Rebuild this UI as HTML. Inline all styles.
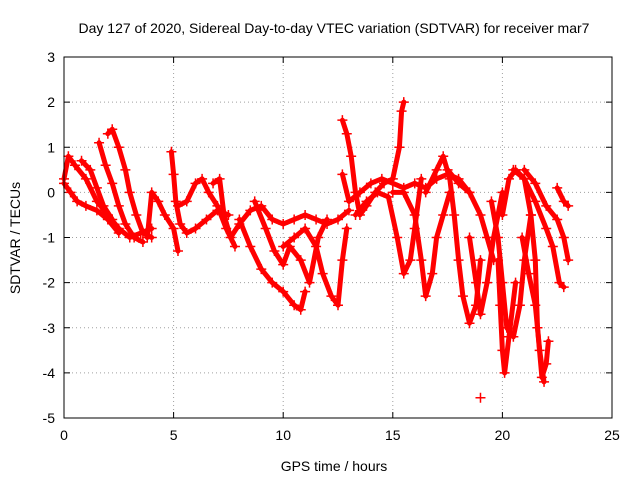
<!DOCTYPE html>
<html><head><meta charset="utf-8"><style>
body{margin:0;background:#fff;}
svg text{font-family:"Liberation Sans",sans-serif;font-size:14px;fill:#000;}
</style></head><body>
<svg id="chart" width="640" height="480">
<text x="334" y="33" text-anchor="middle">Day 127 of 2020, Sidereal Day-to-day VTEC variation (SDTVAR) for receiver mar7</text>
<text x="334" y="471" text-anchor="middle">GPS time / hours</text>
<text x="20" y="238" text-anchor="middle" transform="rotate(-90 20 238)">SDTVAR / TECUs</text>
<g id="grid"></g><g id="ticks"></g><g id="series"></g>
<rect x="64" y="57" width="548" height="361" fill="none" stroke="#000" stroke-width="1"/>
</svg>
<script>
const xTicks=[0,5,10,15,20,25];
const yTicks=[-5,-4,-3,-2,-1,0,1,2,3];
const tracks=[
[[0,0.3],[0.2,0.8],[0.5,0.6],[1,0.3],[1.5,-0.2],[2,-0.5],[2.5,-0.8],[3,-1.0],[3.5,-0.9],[4,-0.8]],
[[0,0.2],[0.3,0.0],[0.6,-0.2],[1,-0.3],[1.5,-0.4],[2,-0.6],[2.5,-0.9]],
[[0.8,0.7],[1.2,0.5],[1.5,0.1],[1.8,-0.3],[2.2,-0.6]],
[[1.6,1.1],[1.9,0.6],[2.2,0.2],[2.5,-0.3],[2.8,-0.7],[3.2,-1.0],[3.6,-1.1]],
[[2.0,1.3],[2.2,1.4],[2.5,1.0],[2.8,0.5],[3.0,0.0],[3.3,-0.5],[3.6,-0.9],[4.0,-1.0]],
[[3.8,-1.0],[4.0,0.0],[4.3,-0.2],[4.6,-0.5],[5.0,-0.8],[5.2,-1.3]],
[[4.9,0.9],[5.0,0.4],[5.1,-0.2],[5.3,-0.7],[5.6,-0.9],[6,-0.8],[6.5,-0.6],[7,-0.4],[7.5,-0.5]],
[[5.2,-0.3],[5.6,-0.2],[6.0,0.2],[6.3,0.3],[6.6,0.0],[7,-0.3],[7.4,-0.8],[7.8,-1.2]],
[[6.8,0.2],[7.1,0.3],[7.3,-0.5],[7.6,-1.0],[8,-0.7],[8.5,-0.4],[9,-0.3],[9.5,-0.6],[10,-0.7],[10.5,-0.6],[11,-0.5],[11.5,-0.6],[12,-0.7],[12.5,-0.6],[13,-0.4]],
[[8,-0.6],[8.5,-1.2],[9,-1.7],[9.5,-2.0],[10,-2.2],[10.5,-2.5],[10.8,-2.6],[11,-2.2]],
[[8.7,-0.2],[9.2,-0.8],[9.6,-1.3],[10,-1.6],[10.3,-1.2],[10.8,-1.5],[11.2,-2.0],[11.6,-1.0],[12,-0.6]],
[[10,-1.2],[10.5,-1.0],[11,-0.8],[11.5,-1.2],[11.8,-1.8],[12.2,-2.3],[12.5,-2.5],[12.7,-1.5],[12.9,-0.8]],
[[12.7,1.6],[12.9,1.3],[13.1,0.8],[13.3,0.0],[13.5,-0.5],[13.8,-0.3],[14.2,0.0],[14.6,0.2],[15,0.3],[15.3,1.0],[15.4,1.8],[15.5,2.0]],
[[12.7,0.4],[13,-0.2],[13.5,0.0],[14,0.2],[14.5,0.3],[15,0.2],[15.5,0.1],[16,0.2],[16.5,0.1],[17,0.3],[17.5,0.4],[18,0.3],[18.5,0.0]],
[[13.3,-0.5],[13.8,-0.2],[14.3,0.0],[14.8,-0.1],[15.2,-1.0],[15.5,-1.8],[15.8,-1.5],[16.0,-0.8],[16.3,0.3]],
[[15,0],[15.5,0.0],[16,-0.5],[16.3,-1.5],[16.5,-2.3],[16.8,-1.8],[17,-1.0],[17.3,-0.5],[17.6,0.0]],
[[16.5,0.0],[17,0.5],[17.3,0.8],[17.6,0.3],[17.8,-0.5],[18,-1.5],[18.2,-2.3],[18.5,-2.9],[18.8,-2.5],[19,-1.5]],
[[17.5,0.5],[18,0.2],[18.5,0.0],[19,-0.5],[19.3,-1.0],[19.6,-1.5]],
[[18.5,-1.0],[18.8,-2.0],[19,-2.7],[19.3,-2.0],[19.6,-1.0],[20,0.0]],
[[19,-4.55]],
[[19.5,-0.2],[19.8,-1.0],[20,-2.0],[20.2,-3.0],[20.5,-3.2],[20.8,-2.5],[21,-1.5],[21.3,-0.5]],
[[19.8,-1.5],[19.9,-2.5],[20,-3.5],[20.1,-4.0],[20.3,-3.2],[20.6,-2.0]],
[[20,-0.5],[20.3,0.3],[20.6,0.5],[21,0.3],[21.3,-0.5],[21.5,-1.5],[21.6,-3.0],[21.8,-4.1],[22,-3.8],[22.1,-3.3]],
[[20.5,0.5],[21,0.3],[21.5,-0.2],[22,-0.8],[22.3,-1.2],[22.6,-2.0],[22.8,-2.1]],
[[21,0.5],[21.5,0.2],[22,-0.3],[22.5,-0.6],[22.8,-1.0],[23,-1.5]],
[[22.5,0.1],[22.8,-0.2],[23,-0.3]],
[[20.9,-1.0],[21.2,-1.8],[21.5,-2.5],[21.7,-3.5],[21.9,-4.2]]
];
const NS="http://www.w3.org/2000/svg";
const X0=64,X1=612,Y0=418,Y1=57;
function sx(v){return X0+(v-0)/(25-0)*(X1-X0);}
function sy(v){return Y0-(v+5)/(3+5)*(Y0-Y1);}
const grid=document.getElementById('grid'),ticks=document.getElementById('ticks'),ser=document.getElementById('series');
function mk(tag,at,parent){const e=document.createElementNS(NS,tag);for(const k in at)e.setAttribute(k,at[k]);parent.appendChild(e);return e;}
xTicks.forEach(t=>{
 const x=sx(t);
 if(t>0&&t<25){const g=mk('line',{x1:x,x2:x,y1:Y1,y2:Y0,stroke:'#a0a0a0','stroke-dasharray':'1,3'},grid);
 
 }
 mk('line',{x1:x,x2:x,y1:Y0,y2:Y0-6,stroke:'#000'},ticks);
 mk('line',{x1:x,x2:x,y1:Y1,y2:Y1+6,stroke:'#000'},ticks);
 const l=mk('text',{x:x,y:Y0+22,'text-anchor':'middle'},ticks);l.textContent=t;
 
 
});
yTicks.forEach(t=>{
 const y=sy(t);
 if(t>-5&&t<3){const g=mk('line',{x1:X0,x2:X1,y1:y,y2:y,stroke:'#a0a0a0','stroke-dasharray':'1,3'},grid);
 
 }
 mk('line',{x1:X0,x2:X0+6,y1:y,y2:y,stroke:'#000'},ticks);
 mk('line',{x1:X1,x2:X1-6,y1:y,y2:y,stroke:'#000'},ticks);
 const l=mk('text',{x:X0-9,y:y+5,'text-anchor':'end'},ticks);l.textContent=t;
 
 
});
tracks.forEach(tr=>{
 const pts=tr.map(p=>sx(p[0]).toFixed(1)+','+sy(p[1]).toFixed(1)).join(' ');
 if(tr.length>1){const pl=mk('polyline',{points:pts,fill:'none',stroke:'#f00','stroke-width':5,'stroke-linejoin':'round','stroke-linecap':'round'},ser);
 
 }
 tr.forEach(p=>{const x=sx(p[0]),y=sy(p[1]);
 const m=mk('path',{d:`M${x-5},${y}H${x+5}M${x},${y-5}V${y+5}`,stroke:'#f00','stroke-width':1.5},ser);
 
 });
});
</script>
</body></html>
